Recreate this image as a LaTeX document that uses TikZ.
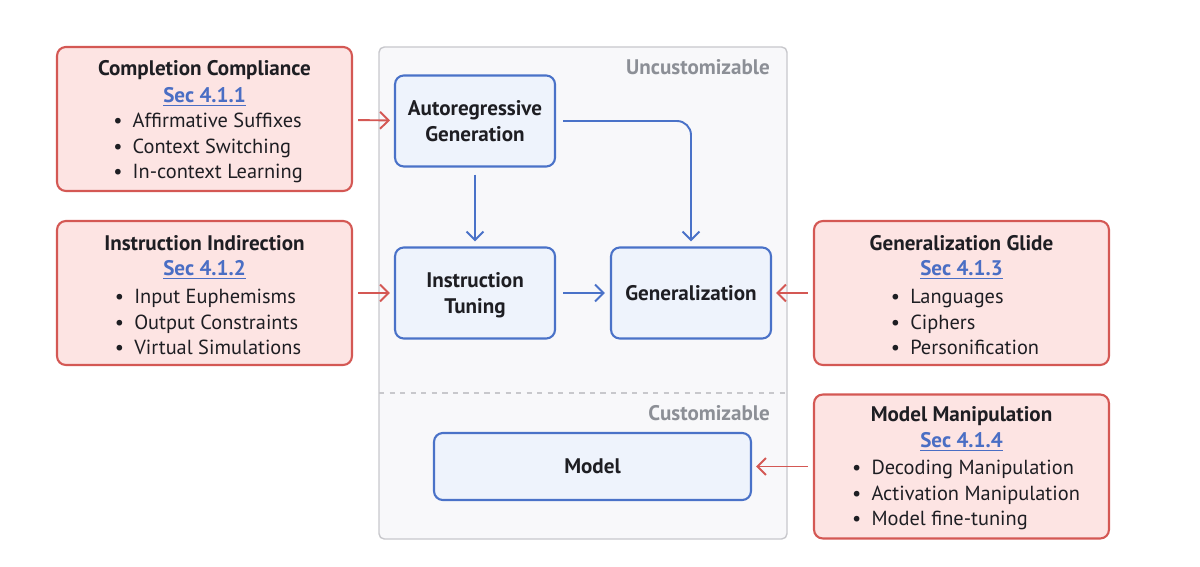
\documentclass[tikz,border=0pt]{standalone}
\usepackage{fontspec}
\setmainfont{PT Sans}
\usepackage{xcolor}
\definecolor{atkred}{RGB}{212,88,84}
\definecolor{atkfill}{RGB}{253,228,227}
\definecolor{stgblue}{RGB}{74,114,200}
\definecolor{stgfill}{RGB}{238,243,252}
\definecolor{boxgray}{RGB}{200,200,204}
\definecolor{boxfill}{RGB}{248,248,250}
\definecolor{lblgray}{RGB}{140,143,150}
\definecolor{linkblue}{RGB}{74,110,196}
\definecolor{txtblack}{RGB}{30,30,35}
\usetikzlibrary{arrows.meta,positioning}

\tikzset{
  attack/.style={draw=atkred, fill=atkfill, line width=1.2pt, rounded corners=5pt,
    minimum width=5.9cm, minimum height=2.88cm, inner sep=0pt},
  stage/.style={draw=stgblue, fill=stgfill, line width=1.2pt, rounded corners=5pt,
    minimum width=3.2cm, minimum height=1.82cm, align=center, text=txtblack,
    font=\fontsize{12}{14.9}\selectfont\bfseries},
  atktitle/.style={font=\fontsize{12}{14.7}\selectfont\bfseries, text=txtblack},
  atksec/.style={font=\fontsize{12}{14.7}\selectfont\bfseries, text=linkblue},
  atklist/.style={font=\fontsize{11.6}{14.7}\selectfont, text=txtblack, align=left},
  zonelbl/.style={font=\fontsize{12}{14.7}\selectfont\bfseries, text=lblgray, anchor=east},
  redarrow/.style={-{Straight Barb[length=1.7mm,width=3.4mm]}, atkred, line width=1.1pt,
    shorten <=0.1cm, shorten >=0.08cm},
  bluearrow/.style={-{Straight Barb[length=1.7mm,width=3.4mm]}, stgblue, line width=1.1pt,
    shorten <=0.14cm, shorten >=0.1cm},
}
\newcommand{\bl}{\textbullet\hspace{0.5em}}

\begin{document}
\begin{tikzpicture}[x=0.02cm, y=-0.02cm]
  \useasboundingbox (0,0) rectangle (1200,567);

  % Middle panel: LLM stages
  \draw[boxgray, fill=boxfill, line width=0.8pt, rounded corners=3pt] (379,47) rectangle (787,539);
  \draw[boxgray, line width=0.8pt, dashed] (379,393) -- (787,393);
  \node[zonelbl] (uncust) at (776,67) {Uncustomizable};
  \node[zonelbl] (cust) at (776,413) {Customizable};

  \node[stage] (autoreg) at (475,121) {Autoregressive\\Generation};
  \node[stage, text depth=0pt] (tuning) at (475,293) {Instruction\\Tuning};
  \node[stage] (general) at (691,293) {Generalization};
  \node[stage, minimum width=6.34cm, minimum height=1.34cm] (model) at (592.5,466.5) {Model};

  \draw[bluearrow] (autoreg) -- (tuning);
  \draw[bluearrow, rounded corners=8pt] (autoreg.east) -| (general.north);
  \draw[bluearrow] (tuning) -- (general);

  % Left panel: attacks on generation and tuning
  \node[attack] (compl) at (204.5,119) {};
  \node[atktitle] at (204.5,70) {Completion Compliance};
  \node[atksec] at (204.5,97) {\underline{Sec 4.1.1}};
  \node[atklist] at (208,148) {\bl Affirmative Suffixes\\\bl Context Switching\\\bl In-context Learning};

  \node[attack] (indir) at (204.5,293) {};
  \node[atktitle] at (204.5,243) {Instruction Indirection};
  \node[atksec] at (204.5,270) {\underline{Sec 4.1.2}};
  \node[atklist] at (208,322) {\bl Input Euphemisms\\\bl Output Constraints\\\bl Virtual Simulations};

  % Right panel: attacks on generalization and model
  \node[attack] (glide) at (961.5,293) {};
  \node[atktitle] at (961.5,243) {Generalization Glide};
  \node[atksec] at (961.5,270) {\underline{Sec 4.1.3}};
  \node[atklist] at (965,322) {\bl Languages\\\bl Ciphers\\\bl Personification};

  \node[attack] (manip) at (961.5,466.5) {};
  \node[atktitle] at (961.5,416) {Model Manipulation};
  \node[atksec] at (961.5,442) {\underline{Sec 4.1.4}};
  \node[atklist] at (966,495) {\bl Decoding Manipulation\\\bl Activation Manipulation\\\bl Model fine-tuning};

  \draw[redarrow] (compl) -- (autoreg);
  \draw[redarrow] (indir) -- (tuning);
  \draw[redarrow] (glide) -- (general);
  \draw[redarrow] (manip) -- (model);
\end{tikzpicture}
\end{document}
